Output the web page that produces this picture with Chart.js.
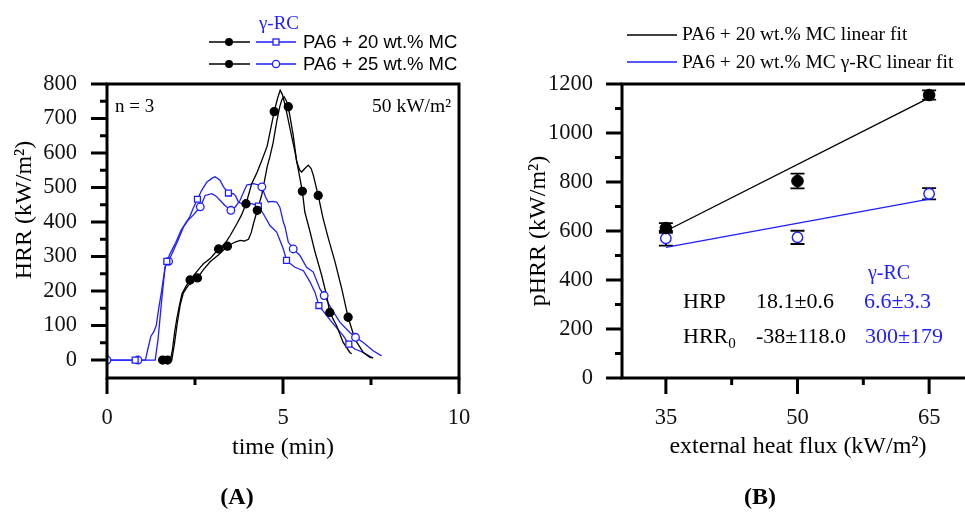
<!DOCTYPE html>
<html><head><meta charset="utf-8">
<script src="https://cdn.jsdelivr.net/npm/chart.js@4/dist/chart.umd.min.js"></script>
<style>
html,body{margin:0;padding:0;background:#fff;width:965px;height:518px;overflow:hidden;position:relative;}
.wrap{position:absolute;left:0;top:0;}
</style></head><body>
<div class="wrap"><canvas id="cA" width="965" height="518"></canvas></div>
<div class="wrap"><canvas id="cB" width="1000" height="518"></canvas></div>
<script>
// ================= Panel A: HRR vs time =================
const timeTicksA = [0, 5, 10];
const timeMinorA = [2.5, 7.5];
const hrrTicksA = [0, 100, 200, 300, 400, 500, 600, 700, 800];
const hrrMinorA = [50, 150, 250, 350, 450, 550, 650, 750];

// PA6 + 20 wt.% MC (black, filled circles)
const time20 = [1.50, 1.58, 1.80, 1.86, 1.92, 1.99, 2.06, 2.13, 2.25, 2.36, 2.50, 2.62, 2.74, 2.93, 3.05, 3.17, 3.35, 3.50, 3.69, 3.82, 3.95, 4.11, 4.25, 4.40, 4.55, 4.65, 4.75, 4.85, 4.92, 4.98, 5.06, 5.20, 5.34, 5.43, 5.55, 5.62, 5.77, 5.91, 6.10, 6.24, 6.33, 6.52, 6.71, 6.90, 6.95];
const hrr20  = [0, 0, 0, 30, 80, 124, 160, 192, 215, 232, 250, 265, 279, 294, 308, 322, 337, 361, 395, 420, 453, 511, 541, 579, 620, 670, 720, 760, 782, 770, 739, 671, 603, 555, 489, 429, 371, 313, 245, 187, 138, 100, 51, 22, 18];
const mark20T = [1.58, 2.36, 3.17, 3.95, 4.75, 5.55, 6.33];
const mark20H = [0, 232, 322, 453, 720, 489, 138];

// PA6 + 25 wt.% MC (black, filled circles)
const time25 = [1.55, 1.72, 1.84, 1.92, 2.00, 2.08, 2.17, 2.30, 2.45, 2.57, 2.74, 2.93, 3.17, 3.42, 3.64, 3.78, 3.90, 4.02, 4.10, 4.16, 4.27, 4.40, 4.55, 4.63, 4.72, 4.82, 4.91, 4.97, 5.03, 5.10, 5.15, 5.29, 5.39, 5.48, 5.53, 5.62, 5.72, 5.80, 5.86, 6.00, 6.14, 6.29, 6.48, 6.67, 6.85, 7.04, 7.28, 7.47, 7.56];
const hrr25  = [0, 0, 0, 50, 110, 160, 195, 215, 228, 238, 262, 285, 305, 330, 342, 347, 345, 350, 370, 395, 434, 480, 560, 590, 630, 690, 735, 755, 763, 750, 734, 652, 574, 550, 545, 555, 565, 555, 536, 477, 410, 352, 284, 206, 124, 61, 22, 8, 6];
const mark25T = [1.72, 2.57, 3.42, 4.27, 5.15, 6.00, 6.85];
const mark25H = [0, 238, 330, 434, 734, 477, 124];

// PA6 + 20 wt.% MC gamma-RC (blue, open squares)
const time20RC = [0, 0.80, 1.09, 1.18, 1.25, 1.32, 1.40, 1.46, 1.55, 1.65, 1.70, 1.80, 1.95, 2.10, 2.22, 2.35, 2.45, 2.57, 2.69, 2.84, 3.00, 3.07, 3.21, 3.31, 3.45, 3.59, 3.66, 3.73, 3.85, 4.00, 4.16, 4.30, 4.44, 4.63, 4.82, 5.01, 5.10, 5.20, 5.34, 5.58, 5.77, 5.91, 6.02, 6.24, 6.47, 6.71, 6.87, 7.04, 7.28, 7.52, 7.56];
const hrr20RC  = [0, 0, 0, 40, 70, 80, 100, 143, 200, 269, 286, 310, 340, 375, 395, 415, 440, 466, 492, 516, 528, 531, 521, 502, 484, 482, 475, 458, 452, 455, 452, 446, 424, 390, 371, 322, 289, 280, 269, 259, 226, 196, 158, 129, 100, 71, 46, 32, 22, 8, 6];
const mark20RCT = [0.80, 1.70, 2.57, 3.45, 4.30, 5.10, 6.02, 6.87];
const mark20RCH = [0, 286, 466, 484, 446, 289, 158, 46];

// PA6 + 25 wt.% MC gamma-RC (blue, open circles)
const time25RC = [0, 0.88, 1.37, 1.45, 1.55, 1.65, 1.75, 1.89, 2.03, 2.17, 2.30, 2.45, 2.55, 2.65, 2.79, 2.98, 3.10, 3.21, 3.35, 3.52, 3.64, 3.78, 3.97, 4.16, 4.30, 4.40, 4.50, 4.58, 4.70, 4.82, 4.91, 5.01, 5.06, 5.15, 5.29, 5.48, 5.67, 5.86, 6.05, 6.17, 6.38, 6.62, 6.90, 7.06, 7.28, 7.56, 7.80];
const hrr25RC  = [0, 0, 0, 60, 170, 270, 286, 318, 350, 385, 405, 420, 432, 444, 477, 482, 475, 463, 448, 434, 443, 463, 507, 511, 508, 502, 473, 458, 460, 458, 443, 400, 385, 342, 322, 303, 269, 255, 206, 187, 148, 109, 80, 66, 51, 27, 12];
const mark25RCT = [0, 0.88, 1.75, 2.65, 3.52, 4.40, 5.29, 6.17, 7.06];
const mark25RCH = [0, 0, 286, 444, 434, 502, 322, 187, 66];

// ================= Panel B: pHRR vs heat flux =================
const fluxTicks = [35, 50, 65];
const fluxMinor = [42.5, 57.5];
const phrrTicks = [0, 200, 400, 600, 800, 1000, 1200];
const phrrMinor = [100, 300, 500, 700, 900, 1100];
const flux = [35, 50, 65];
const phrr20 = [612, 804, 1155];
const err20 = [20, 30, 19];
const phrr20RC = [570, 574, 752];
const err20RC = [30, 27, 23];
const fitFlux = [35, 65];
const fit20 = [600, 1143];
const fit20RC = [533, 730];

// ================= helpers =================
const SERIF = "'Liberation Serif','Times New Roman',serif";
const SANS = "'Liberation Sans',Arial,sans-serif";
const BLUE = '#1e1eff';
const pts = (xs, ys) => xs.map((x, i) => ({x: x, y: ys[i]}));
const plain = v => String(v);

function txt(ctx, s, x, y, font, color, align) {
  ctx.font = font; ctx.fillStyle = color; ctx.textAlign = align || 'left';
  ctx.textBaseline = 'middle'; ctx.fillText(s, x, y);
}
function frame(chart, o) {
  const {ctx, chartArea: a, scales: {x, y}} = chart;
  ctx.save();
  ctx.strokeStyle = '#000'; ctx.lineWidth = 3; ctx.lineCap = 'butt';
  ctx.beginPath();
  ctx.rect(a.left, a.top, a.right - a.left, a.bottom - a.top);
  ctx.stroke();
  ctx.beginPath();
  o.yMajor.forEach(v => { const p = y.getPixelForValue(v); ctx.moveTo(a.left - 16, p); ctx.lineTo(a.left, p); });
  o.yMinor.forEach(v => { const p = y.getPixelForValue(v); ctx.moveTo(a.left - 7, p); ctx.lineTo(a.left, p); });
  o.xMajor.forEach(v => { const p = x.getPixelForValue(v); ctx.moveTo(p, a.bottom); ctx.lineTo(p, a.bottom + 16); });
  o.xMinor.forEach(v => { const p = x.getPixelForValue(v); ctx.moveTo(p, a.bottom); ctx.lineTo(p, a.bottom + 7); });
  ctx.stroke();
  ctx.restore();
}
const tickFont = {family: SERIF, size: 22.5};

// ================= Chart A =================
const lineA = (xs, ys, color) => ({data: pts(xs, ys), borderColor: color, borderWidth: 1.3, pointRadius: 0, tension: 0, order: 2});
const markA = (xs, ys, style, fill, stroke, r) => ({data: pts(xs, ys), showLine: false, pointStyle: style, pointRadius: r,
  pointBackgroundColor: fill, pointBorderColor: stroke, pointBorderWidth: 1.3, order: 1});

new Chart(document.getElementById('cA'), {
  type: 'line',
  data: {datasets: [
    lineA(time20, hrr20, '#000'),
    lineA(time25, hrr25, '#000'),
    lineA(time20RC, hrr20RC, BLUE),
    lineA(time25RC, hrr25RC, BLUE),
    markA(mark20T, mark20H, 'circle', '#000', '#000', 4),
    markA(mark25T, mark25H, 'circle', '#000', '#000', 4),
    markA(mark20RCT, mark20RCH, 'rect', '#fff', BLUE, 4.2),
    markA(mark25RCT, mark25RCH, 'circle', '#fff', BLUE, 3.8)
  ]},
  options: {
    responsive: false, animation: false, devicePixelRatio: 1,
    layout: {padding: {left: 0, top: 84, right: 506, bottom: 80}},
    plugins: {legend: {display: false}, tooltip: {enabled: false}},
    scales: {
      x: {type: 'linear', min: 0, max: 10,
        afterBuildTicks: s => { s.ticks = timeTicksA.map(v => ({value: v})); },
        afterFit: s => { s.height = 60; },
        grid: {display: false, drawTicks: false}, border: {display: false},
        ticks: {padding: 27, font: tickFont, color: '#111', maxRotation: 0, autoSkip: false, callback: plain}},
      y: {type: 'linear', min: -52, max: 800,
        afterBuildTicks: s => { s.ticks = hrrTicksA.map(v => ({value: v})); },
        afterFit: s => { s.width = 107; },
        grid: {display: false, drawTicks: false}, border: {display: false},
        ticks: {padding: 30, font: tickFont, color: '#111', autoSkip: false, callback: plain}}
    }
  },
  plugins: [{
    id: 'decorA',
    afterDraw(chart) {
      const ctx = chart.ctx;
      frame(chart, {xMajor: timeTicksA, xMinor: timeMinorA, yMajor: hrrTicksA, yMinor: hrrMinorA});
      ctx.save();
      // legend
      const rows = [{y: 42, blue: 'rect', label: 'PA6 + 20 wt.% MC'}, {y: 64, blue: 'circle', label: 'PA6 + 25 wt.% MC'}];
      rows.forEach(r => {
        ctx.lineWidth = 1.3;
        ctx.strokeStyle = '#000';
        ctx.beginPath(); ctx.moveTo(209, r.y); ctx.lineTo(250, r.y); ctx.stroke();
        ctx.fillStyle = '#000'; ctx.beginPath(); ctx.arc(229, r.y, 4, 0, Math.PI * 2); ctx.fill();
        ctx.strokeStyle = BLUE;
        ctx.beginPath(); ctx.moveTo(256, r.y); ctx.lineTo(296, r.y); ctx.stroke();
        ctx.fillStyle = '#fff';
        if (r.blue === 'rect') { ctx.fillRect(273, r.y - 3, 6, 6); ctx.strokeRect(273, r.y - 3, 6, 6); }
        else { ctx.beginPath(); ctx.arc(276, r.y, 3.6, 0, Math.PI * 2); ctx.fill(); ctx.stroke(); }
        txt(ctx, r.label, 303, r.y + 1, '18.5px ' + SANS, '#000', 'left');
      });
      txt(ctx, 'γ-RC', 279, 24, '19px ' + SERIF, BLUE, 'center');
      // annotations
      txt(ctx, 'n = 3', 115, 107, '19px ' + SERIF, '#000', 'left');
      txt(ctx, '50 kW/m²', 451, 107, '19.5px ' + SERIF, '#000', 'right');
      // axis titles
      txt(ctx, 'time (min)', 283, 448, '24px ' + SERIF, '#000', 'center');
      ctx.save(); ctx.translate(25, 210); ctx.rotate(-Math.PI / 2);
      txt(ctx, 'HRR (kW/m²)', 0, 0, '24px ' + SERIF, '#000', 'center');
      ctx.restore();
      txt(ctx, '(A)', 237, 498, 'bold 24px ' + SERIF, '#000', 'center');
      ctx.restore();
    }
  }]
});

// ================= Chart B =================
new Chart(document.getElementById('cB'), {
  type: 'line',
  data: {datasets: [
    {data: pts(flux, phrr20), showLine: false, pointStyle: 'circle', pointRadius: 5.8, pointBackgroundColor: '#000', pointBorderColor: '#000', pointBorderWidth: 1, order: 1},
    {data: pts(flux, phrr20RC), showLine: false, pointStyle: 'circle', pointRadius: 5.2, pointBackgroundColor: '#fff', pointBorderColor: BLUE, pointBorderWidth: 1.4, order: 1},
    {data: pts(fitFlux, fit20), borderColor: '#000', borderWidth: 1.4, pointRadius: 0, tension: 0, order: 3},
    {data: pts(fitFlux, fit20RC), borderColor: BLUE, borderWidth: 1.4, pointRadius: 0, tension: 0, order: 3}
  ]},
  options: {
    responsive: false, animation: false, devicePixelRatio: 1,
    layout: {padding: {left: 483, top: 84, right: 27, bottom: 80}},
    plugins: {legend: {display: false}, tooltip: {enabled: false}},
    scales: {
      x: {type: 'linear', min: 30, max: 70,
        afterBuildTicks: s => { s.ticks = fluxTicks.map(v => ({value: v})); },
        afterFit: s => { s.height = 60; },
        grid: {display: false, drawTicks: false}, border: {display: false},
        ticks: {padding: 27, font: tickFont, color: '#111', maxRotation: 0, autoSkip: false, callback: plain}},
      y: {type: 'linear', min: 0, max: 1200,
        afterBuildTicks: s => { s.ticks = phrrTicks.map(v => ({value: v})); },
        afterFit: s => { s.width = 139; },
        grid: {display: false, drawTicks: false}, border: {display: false},
        ticks: {padding: 29, font: tickFont, color: '#111', autoSkip: false, callback: plain}}
    }
  },
  plugins: [{
    id: 'errB',
    beforeDatasetsDraw(chart) {
      const {ctx, scales: {x, y}} = chart;
      ctx.save(); ctx.strokeStyle = '#000'; ctx.lineWidth = 1.8;
      const draw = (vals, errs) => vals.forEach((v, i) => {
        const px = x.getPixelForValue(flux[i]);
        const top = y.getPixelForValue(v + errs[i]), bot = y.getPixelForValue(v - errs[i]);
        ctx.beginPath();
        ctx.moveTo(px, top); ctx.lineTo(px, bot);
        ctx.moveTo(px - 7, top); ctx.lineTo(px + 7, top);
        ctx.moveTo(px - 7, bot); ctx.lineTo(px + 7, bot);
        ctx.stroke();
      });
      draw(phrr20, err20); draw(phrr20RC, err20RC);
      ctx.restore();
    },
    afterDraw(chart) {
      const ctx = chart.ctx;
      frame(chart, {xMajor: fluxTicks, xMinor: fluxMinor, yMajor: phrrTicks, yMinor: phrrMinor});
      ctx.save();
      // legend
      ctx.lineWidth = 1.4;
      ctx.strokeStyle = '#000'; ctx.beginPath(); ctx.moveTo(627, 35); ctx.lineTo(677, 35); ctx.stroke();
      ctx.strokeStyle = BLUE; ctx.beginPath(); ctx.moveTo(627, 62); ctx.lineTo(677, 62); ctx.stroke();
      txt(ctx, 'PA6 + 20 wt.% MC linear fit', 682, 35, '19.5px ' + SERIF, '#000', 'left');
      txt(ctx, 'PA6 + 20 wt.% MC γ-RC linear fit', 682, 63, '19.5px ' + SERIF, '#000', 'left');
      // fit parameters
      const F = '22px ' + SERIF;
      txt(ctx, 'γ-RC', 868, 274, '20px ' + SERIF, BLUE, 'left');
      txt(ctx, 'HRP', 683, 302, F, '#000', 'left');
      txt(ctx, '18.1±0.6', 756, 302, F, '#000', 'left');
      txt(ctx, '6.6±3.3', 864, 302, F, BLUE, 'left');
      txt(ctx, 'HRR', 683, 337, F, '#000', 'left');
      ctx.font = F; const w = ctx.measureText('HRR').width;
      txt(ctx, '0', 683 + w, 344, '15px ' + SERIF, '#000', 'left');
      txt(ctx, '-38±118.0', 756, 337, F, '#000', 'left');
      txt(ctx, '300±179', 865, 337, F, BLUE, 'left');
      // axis titles
      txt(ctx, 'external heat flux (kW/m²)', 798, 447, '24px ' + SERIF, '#000', 'center');
      ctx.save(); ctx.translate(539, 231); ctx.rotate(-Math.PI / 2);
      txt(ctx, 'pHRR (kW/m²)', 0, 0, '24px ' + SERIF, '#000', 'center');
      ctx.restore();
      txt(ctx, '(B)', 760, 498, 'bold 24px ' + SERIF, '#000', 'center');
      ctx.restore();
    }
  }]
});
</script>
</body></html>
